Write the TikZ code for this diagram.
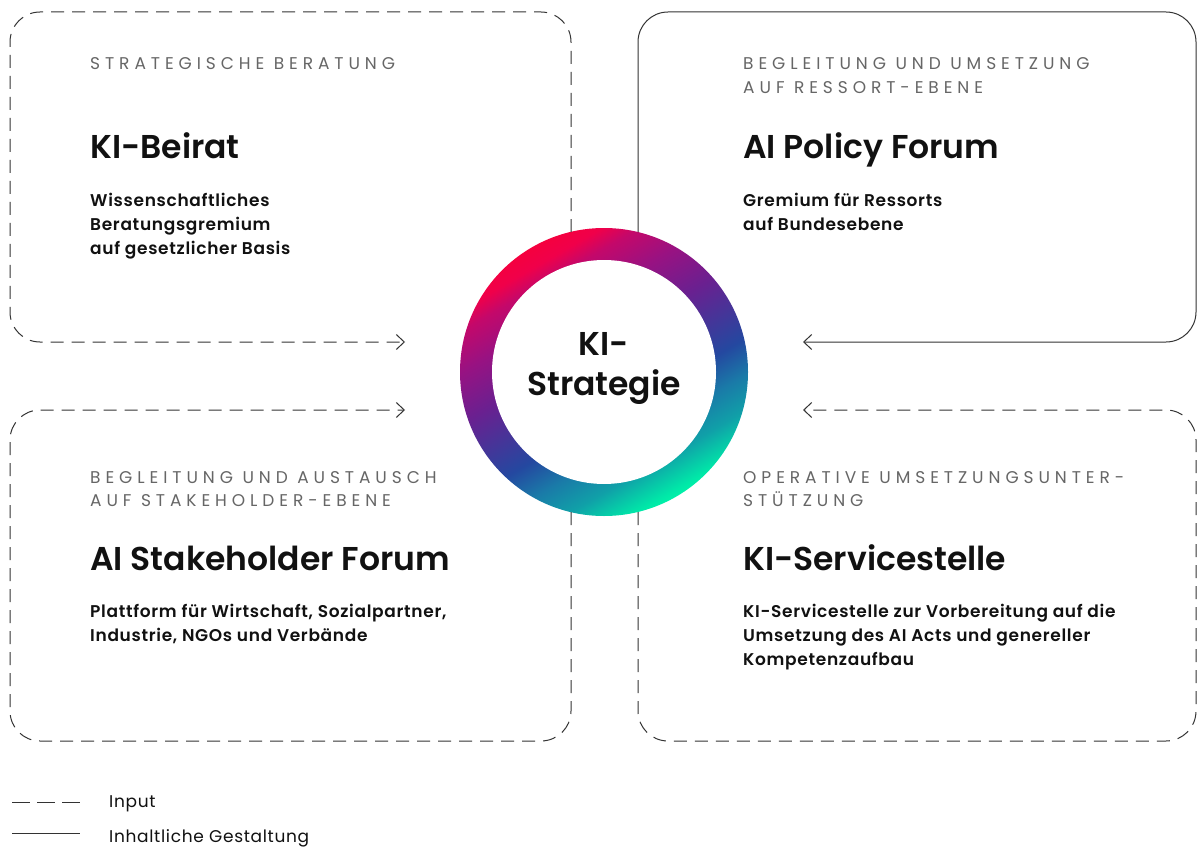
\documentclass[tikz,border=0pt]{standalone}
\usepackage{fontspec}
\setmainfont{Poppins}
\newfontfamily\fsemi{Poppins SemiBold}
\newfontfamily\fbody{Poppins SemiBold}[LetterSpace=4]
\newfontfamily\fgray{Poppins}[LetterSpace=29]
\newfontfamily\flegend{Poppins}[LetterSpace=4]
\usetikzlibrary{arrows.meta}
\definecolor{lineC}{HTML}{333333}
\definecolor{grayT}{HTML}{666666}
\definecolor{textC}{HTML}{111111}
\definecolor{rA}{HTML}{F5003F}
\definecolor{rB}{HTML}{F0004A}
\definecolor{rC}{HTML}{C4086A}
\definecolor{rD}{HTML}{981282}
\definecolor{rE}{HTML}{6A2090}
\definecolor{rF}{HTML}{2448A0}
\definecolor{rG}{HTML}{1A7AA8}
\definecolor{rH}{HTML}{10A0A8}
\definecolor{rI}{HTML}{00E8A8}
\definecolor{rJ}{HTML}{00F0A8}
\pgfdeclarehorizontalshading{kiring}{100bp}{color(0bp)=(rA); color(25bp)=(rA); color(28bp)=(rB); color(31.25bp)=(rC); color(37.5bp)=(rD); color(45.25bp)=(rE); color(57.25bp)=(rF); color(62.75bp)=(rG); color(68.25bp)=(rH); color(74bp)=(rI); color(75bp)=(rJ); color(100bp)=(rJ)}
\tikzset{
  outline/.style={draw=lineC, line width=1pt, rounded corners=30pt},
  inputline/.style={outline, dash pattern=on 13pt off 8pt},
  tipV/.style={-{Straight Barb[length=8pt,width=15pt,line width=1pt]}},
  graylbl/.style={anchor=base west, inner sep=0, text=grayT, font=\fgray\fontsize{17}{24}\selectfont},
  titlelbl/.style={anchor=base west, inner sep=0, text=textC, font=\fsemi\fontsize{33}{36}\selectfont},
  bodylbl/.style={anchor=base west, inner sep=0, text=textC, font=\fbody\fontsize{17}{24}\selectfont},
  centerlbl/.style={anchor=base, inner sep=0, text=textC, font=\fsemi\fontsize{33}{40}\selectfont},
  legendlbl/.style={anchor=base west, inner sep=0, text=textC, font=\flegend\fontsize{17}{24}\selectfont},
}
\begin{document}
\begin{tikzpicture}[x=1pt,y=-1pt]
\fill[white] (0,0) rectangle (1197,848);
\useasboundingbox (0,0) rectangle (1197,848);

% ring
\node[circle, shade, shading=kiring, shading angle=-60, inner sep=0, minimum size=288pt] (ring) at (604,372) {};
\node[circle, fill=white, inner sep=0, minimum size=224pt] (core) at (ring.center) {};
\node[centerlbl] (c1) at (604,355) {KI-};
\node[centerlbl] (c2) at (604,395) {Strategie};

% coordinates
\coordinate (tlS) at (571,232);
\coordinate (tlE) at (405,342);
\coordinate (trS) at (638,232);
\coordinate (trE) at (803,342);
\coordinate (blS) at (571,512);
\coordinate (blE) at (405,410);
\coordinate (brS) at (638,512);
\coordinate (brE) at (803,410);

% boxes
\draw[inputline, tipV] (tlS) -- (571,12) -- (10,12) -- (10,342) -- (tlE);
\draw[outline, tipV] (trS) -- (638,12) -- (1196,12) -- (1196,342) -- (trE);
\draw[inputline, tipV] (blS) -- (571,741) -- (10,741) -- (10,410) -- (blE);
\draw[inputline, tipV] (brS) -- (638,741) -- (1196,741) -- (1196,410) -- (brE);

% top-left
\node[graylbl] (tlg) at (90,70) {STRATEGISCHE BERATUNG};
\node[titlelbl] (tlt) at (90,158) {KI-Beirat};
\node[bodylbl] (tlb1) at (90,206) {Wissenschaftliches};
\node[bodylbl] (tlb2) at (90,230) {Beratungsgremium};
\node[bodylbl] (tlb3) at (90,254) {auf gesetzlicher Basis};

% top-right
\node[graylbl] (trg1) at (743,70) {BEGLEITUNG UND UMSETZUNG};
\node[graylbl] (trg2) at (743,94) {AUF RESSORT-EBENE};
\node[titlelbl] (trt) at (743,158) {AI Policy Forum};
\node[bodylbl] (trb1) at (743,206) {Gremium für Ressorts};
\node[bodylbl] (trb2) at (743,230) {auf Bundesebene};

% bottom-left
\node[graylbl] (blg1) at (90,483) {BEGLEITUNG UND AUSTAUSCH};
\node[graylbl] (blg2) at (90,506) {AUF STAKEHOLDER-EBENE};
\node[titlelbl] (blt) at (90,570) {AI Stakeholder Forum};
\node[bodylbl] (blb1) at (90,617) {Plattform für Wirtschaft, Sozialpartner,};
\node[bodylbl] (blb2) at (90,641) {Industrie, NGOs und Verbände};

% bottom-right
\node[graylbl] (brg1) at (743,483) {OPERATIVE UMSETZUNGSUNTER-};
\node[graylbl] (brg2) at (743,506) {STÜTZUNG};
\node[titlelbl] (brt) at (743,570) {KI-Servicestelle};
\node[bodylbl] (brb1) at (743,617) {KI-Servicestelle zur Vorbereitung auf die};
\node[bodylbl] (brb2) at (743,641) {Umsetzung des AI Acts und genereller};
\node[bodylbl] (brb3) at (743,665) {Kompetenzaufbau};

% legend
\coordinate (l1a) at (12,802);
\coordinate (l1b) at (80,802);
\coordinate (l2a) at (12,833);
\coordinate (l2b) at (80,833);
\draw[draw=lineC, line width=1pt, dash pattern=on 18pt off 7pt] (l1a) -- (l1b);
\draw[draw=lineC, line width=1pt] (l2a) -- (l2b);
\node[legendlbl] (lg1) at (109,807) {Input};
\node[legendlbl] (lg2) at (109,842) {Inhaltliche Gestaltung};
\end{tikzpicture}
\end{document}
